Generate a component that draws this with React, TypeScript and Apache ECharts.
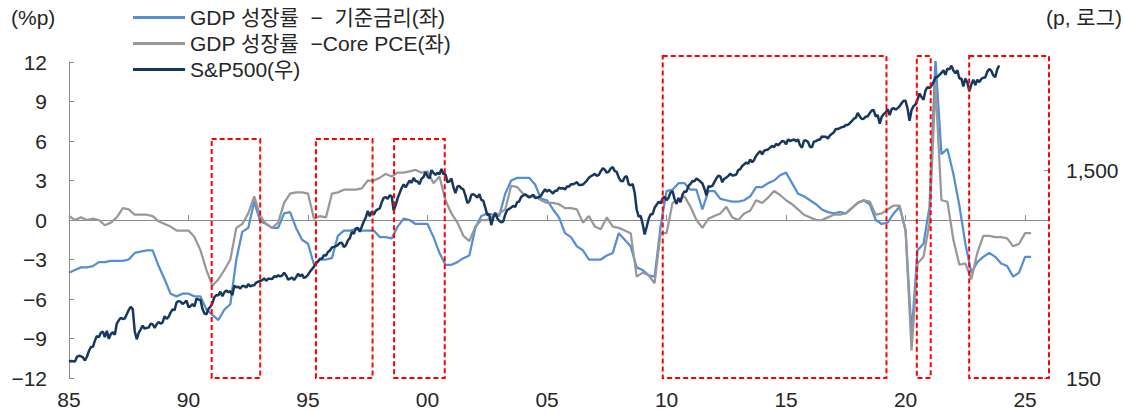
import React, { useEffect, useRef } from "react";
import * as echarts from "echarts";

// ---------- data ----------
const START_YEAR = 1985;

// GDP growth - policy rate (%p), quarterly from 1985Q1
const gdpMinusRate = [
  -4.0, -3.8, -3.6, -3.6, // 1985
  -3.5, -3.2, -3.2, -3.1, // 1986
  -3.1, -3.1, -3.0, -2.5, // 1987
  -2.4, -2.3, -2.3, -3.5, // 1988
  -4.5, -5.6, -5.8, -5.6, // 1989
  -5.6, -5.8, -5.8, -6.8, // 1990
  -7.2, -7.6, -6.8, -6.4, // 1991
  -3.0, -0.9, -0.6, 1.4, // 1992
  -0.1, -0.3, -0.6, -0.6, // 1993
  0.5, 0.6, -0.6, -1.5, // 1994
  -1.8, -3.4, -3.0, -3.0, // 1995
  -2.9, -1.2, -0.8, -0.8, // 1996
  -0.7, -0.8, -0.8, -0.8, // 1997
  -1.3, -1.3, -1.4, -0.5, // 1998
  0.1, 0.0, -0.3, -0.3, // 1999
  -0.3, -1.3, -2.5, -3.4, // 2000
  -3.4, -3.2, -2.9, -2.7, // 2001
  -0.6, 0.3, 0.5, 0.4, // 2002
  0.3, 2.0, 3.0, 3.2, // 2003
  3.2, 3.2, 2.7, 1.6, // 2004
  1.5, 0.8, 0.2, -1.0, // 2005
  -1.3, -2.0, -2.3, -3.0, // 2006
  -3.0, -3.0, -2.7, -2.5, // 2007
  -1.0, -1.5, -2.0, -3.6, // 2008
  -3.8, -4.2, -4.3, -0.5, // 2009
  2.2, 2.3, 2.8, 2.8, // 2010
  2.3, 2.3, 0.8, 2.2, // 2011
  2.2, 1.6, 1.5, 1.4, // 2012
  1.4, 1.5, 1.8, 2.5, // 2013
  2.5, 2.8, 3.0, 3.4, // 2014
  3.6, 2.8, 2.0, 1.8, // 2015
  1.5, 1.2, 0.8, 0.6, // 2016
  0.5, 0.6, 0.5, 0.9, // 2017
  1.3, 1.5, 1.2, 0.0, // 2018
  -0.3, -0.2, 0.5, 1.0, // 2019
  -0.8, -8.7, -2.3, -1.8, // 2020
  1.0, 12.2, 5.0, 5.4, // 2021
  3.5, 1.1, -1.8, -4.0, // 2022
  -3.2, -2.8, -2.5, -2.8, // 2023
  -3.3, -3.5, -4.3, -4.0, // 2024
  -2.8, -2.8, // 2025
];

// GDP growth - Core PCE (%p), quarterly from 1985Q1
const gdpMinusPce = [
  0.3, 0.0, 0.2, 0.0, // 1985
  0.1, 0.0, -0.4, -0.2, // 1986
  0.2, 0.9, 0.8, 0.4, // 1987
  0.4, 0.4, 0.3, -0.1, // 1988
  -0.3, -0.5, -0.8, -0.8, // 1989
  -0.8, -1.3, -2.3, -3.8, // 1990
  -5.0, -4.5, -3.8, -3.0, // 1991
  -0.6, -0.3, 0.5, 1.8, // 1992
  0.3, -0.3, -0.6, -0.2, // 1993
  1.3, 2.0, 2.1, 2.1, // 1994
  2.0, 0.1, 0.3, 0.2, // 1995
  2.0, 2.1, 2.3, 2.3, // 1996
  2.3, 2.4, 3.0, 3.0, // 1997
  3.2, 3.5, 3.3, 3.6, // 1998
  3.6, 3.7, 3.8, 3.6, // 1999
  3.7, 2.8, 3.3, 1.5, // 2000
  0.5, -0.2, -1.2, -1.6, // 2001
  -0.5, 0.0, 0.0, 0.3, // 2002
  0.5, 0.8, 2.6, 2.5, // 2003
  2.0, 1.8, 1.8, 1.5, // 2004
  1.3, 1.3, 1.2, 0.9, // 2005
  0.9, 0.8, -0.2, 0.3, // 2006
  -0.5, -0.7, 0.2, -0.5, // 2007
  -0.6, -0.8, -1.0, -4.3, // 2008
  -4.0, -4.2, -4.8, -1.0, // 2009
  -1.0, 1.3, 1.5, 1.8, // 2010
  1.0, 0.0, -0.6, 0.1, // 2011
  0.3, 0.5, 1.0, 0.2, // 2012
  0.0, 0.5, 0.7, 1.5, // 2013
  1.3, 1.7, 2.2, 1.9, // 2014
  1.5, 1.2, 0.8, 0.4, // 2015
  0.2, 0.0, 0.0, 0.2, // 2016
  0.4, 0.4, 0.5, 0.9, // 2017
  1.3, 1.5, 1.4, 0.4, // 2018
  0.5, 0.8, 1.1, 1.1, // 2019
  -0.8, -9.9, -3.3, -2.8, // 2020
  -0.25, 10.3, 1.5, 1.4, // 2021
  -1.5, -3.4, -3.3, -4.5, // 2022
  -2.5, -1.2, -1.2, -1.3, // 2023
  -1.3, -1.4, -2.0, -1.8, // 2024
  -1.0, -1.0, // 2025
];

// S&P500 monthly close (p), Jan 1985 - Dec 2023
const sp500 = [
  179.6, 181.2, 180.7, 179.8, 189.6, 191.9, 190.9, 188.6, 182.1, 189.8, 202.2, 211.3,
  211.8, 226.9, 238.9, 235.5, 247.4, 250.8, 236.1, 252.9, 231.3, 244.0, 249.2, 242.2,
  274.1, 284.2, 291.7, 288.4, 290.1, 304.0, 318.7, 329.8, 321.8, 251.8, 230.3, 247.1,
  257.1, 267.8, 258.9, 261.3, 262.2, 273.5, 272.0, 261.5, 271.9, 279.0, 273.7, 277.7,
  297.5, 288.9, 294.9, 309.6, 320.5, 318.0, 346.1, 351.5, 349.2, 340.4, 346.0, 353.4,
  329.1, 331.9, 339.9, 330.8, 361.2, 358.0, 356.2, 322.6, 306.1, 304.0, 322.2, 330.2,
  343.9, 367.1, 375.2, 375.3, 389.8, 371.2, 387.8, 395.4, 387.9, 392.5, 375.2, 417.1,
  408.8, 412.7, 403.7, 415.0, 415.4, 408.1, 424.2, 414.0, 417.8, 418.7, 431.4, 435.7,
  438.8, 443.4, 451.7, 440.2, 450.2, 450.5, 448.1, 463.6, 458.9, 467.8, 461.8, 466.5,
  481.6, 467.1, 445.8, 450.9, 456.5, 444.3, 458.3, 475.5, 462.7, 472.4, 453.7, 459.3,
  470.4, 487.4, 500.7, 514.7, 533.4, 544.8, 562.1, 561.9, 584.4, 581.5, 605.4, 615.9,
  636.0, 640.4, 645.5, 654.2, 669.1, 670.6, 639.9, 652.0, 687.3, 705.3, 757.0, 740.7,
  786.2, 790.8, 757.1, 801.3, 848.3, 885.1, 954.3, 899.5, 947.3, 914.6, 955.4, 970.4,
  980.3, 1049.3, 1101.8, 1111.8, 1090.8, 1133.8, 1120.7, 957.3, 1017.0, 1098.7, 1163.6, 1229.2,
  1279.6, 1238.3, 1286.4, 1335.2, 1301.8, 1372.7, 1328.7, 1320.4, 1282.7, 1362.9, 1388.9, 1469.3,
  1394.5, 1366.4, 1498.6, 1452.4, 1420.6, 1454.6, 1430.8, 1517.7, 1436.5, 1429.4, 1315.0, 1320.3,
  1366.0, 1239.9, 1160.3, 1249.5, 1255.8, 1224.4, 1211.2, 1133.6, 1040.9, 1059.8, 1139.5, 1148.1,
  1130.2, 1106.7, 1147.4, 1076.9, 1067.1, 989.8, 911.6, 916.1, 815.3, 885.8, 936.3, 879.8,
  855.7, 841.2, 848.2, 916.9, 963.6, 974.5, 990.3, 1008.0, 996.0, 1050.7, 1058.2, 1111.9,
  1131.1, 1144.9, 1126.2, 1107.3, 1120.7, 1140.8, 1101.7, 1104.2, 1114.6, 1130.2, 1173.8, 1211.9,
  1181.3, 1203.6, 1180.6, 1156.9, 1191.5, 1191.3, 1234.2, 1220.3, 1228.8, 1207.0, 1249.5, 1248.3,
  1280.1, 1280.7, 1294.9, 1310.6, 1270.1, 1270.2, 1276.7, 1303.8, 1335.9, 1377.9, 1400.6, 1418.3,
  1438.2, 1406.8, 1420.9, 1482.4, 1530.6, 1503.4, 1455.3, 1474.0, 1526.8, 1549.4, 1481.1, 1468.4,
  1378.6, 1330.6, 1322.7, 1385.6, 1400.4, 1280.0, 1267.4, 1282.8, 1166.4, 968.8, 896.2, 903.3,
  825.9, 735.1, 797.9, 872.8, 919.1, 919.3, 987.5, 1020.6, 1057.1, 1036.2, 1095.6, 1115.1,
  1073.9, 1104.5, 1169.4, 1186.7, 1089.4, 1030.7, 1101.6, 1049.3, 1141.2, 1183.3, 1180.6, 1257.6,
  1286.1, 1327.2, 1325.8, 1363.6, 1345.2, 1320.6, 1292.3, 1218.9, 1131.4, 1253.3, 1247.0, 1257.6,
  1312.4, 1365.7, 1408.5, 1397.9, 1310.3, 1362.2, 1379.3, 1406.6, 1440.7, 1412.2, 1416.2, 1426.2,
  1498.1, 1514.7, 1569.2, 1597.6, 1630.7, 1606.3, 1685.7, 1633.0, 1681.6, 1756.5, 1805.8, 1848.4,
  1782.6, 1859.5, 1872.3, 1884.0, 1923.6, 1960.2, 1930.7, 2003.4, 1972.3, 2018.1, 2067.6, 2058.9,
  1995.0, 2104.5, 2067.9, 2085.5, 2107.4, 2063.1, 2103.8, 1972.2, 1920.0, 2079.4, 2080.4, 2043.9,
  1940.2, 1932.2, 2059.7, 2065.3, 2097.0, 2098.9, 2173.6, 2171.0, 2168.3, 2126.2, 2198.8, 2238.8,
  2278.9, 2363.6, 2362.7, 2384.2, 2411.8, 2423.4, 2470.3, 2471.7, 2519.4, 2575.3, 2647.6, 2673.6,
  2823.8, 2713.8, 2640.9, 2648.1, 2705.3, 2718.4, 2816.3, 2901.5, 2914.0, 2711.7, 2760.2, 2506.9,
  2704.1, 2784.5, 2834.4, 2945.8, 2752.1, 2941.8, 2980.4, 2926.5, 2976.7, 3037.6, 3141.0, 3230.8,
  3225.5, 2954.2, 2584.6, 2912.4, 3044.3, 3100.3, 3271.1, 3500.3, 3363.0, 3270.0, 3621.6, 3756.1,
  3714.2, 3811.2, 3972.9, 4181.2, 4204.1, 4297.5, 4395.3, 4522.7, 4307.5, 4605.4, 4567.0, 4766.2,
  4515.6, 4373.9, 4530.4, 4131.9, 4132.2, 3785.4, 4130.3, 3955.0, 3585.6, 3872.0, 4080.1, 3839.5,
  4076.6, 3970.2, 4109.3, 4169.5, 4179.8, 4450.4, 4589.0, 4507.7, 4288.1, 4193.8, 4567.8, 4769.8,
];

// highlighted periods: [from, to, top (%p), bottom (%p)]
const periods = [
  [1990.97, 1993.0, 6.15, -12],
  [1995.33, 1997.7, 6.15, -12],
  [1998.6, 2000.72, 6.15, -12],
  [2009.84, 2019.2, 12.45, -12],
  [2020.47, 2021.05, 12.45, -12],
  [2022.66, 2026.0, 12.45, -12],
];

const seriesNames = [
  "GDP 성장률  −  기준금리(좌)",
  "GDP 성장률  −Core PCE(좌)",
  "S&P500(우)",
];
const xTicks = [1985, 1990, 1995, 2000, 2005, 2010, 2015, 2020, 2025];
const leftTicks = [-12, -9, -6, -3, 0, 3, 6, 9, 12];
const rightBase = 150; // bottom of log axis
const rightTop = 4960; // top of log axis
const rightTicks = [150, 1500];

const FONT = "'Liberation Sans', Arial, 'Noto Sans CJK KR', sans-serif";
const TXT = "#262626";
const FS = 21;

export default function App() {
  const ref = useRef<HTMLDivElement>(null);
  useEffect(() => {
    if (!ref.current) return;
    const chart = echarts.init(ref.current, undefined, { renderer: "svg" });
    const q = (arr: number[]) => arr.map((v, i) => [START_YEAR + i / 4, v]);
    const lg = (v: number) => Math.log10(v / rightBase);
    const spData = sp500.map((v, i) => [START_YEAR + i / 12, lg(v)]);

    chart.setOption({
      animation: false,
      textStyle: { fontFamily: FONT },
      grid: { left: 69, right: 75, top: 62, bottom: 34, containLabel: false },
      legend: {
        orient: "vertical",
        left: 133,
        top: 7,
        padding: 0,
        itemWidth: 52,
        itemHeight: 3,
        itemGap: 5,
        icon: "rect",
        data: seriesNames,
        textStyle: { fontFamily: FONT, fontSize: FS, color: TXT },
      },
      graphic: [
        {
          type: "text",
          left: 11,
          top: 7,
          style: { text: "(%p)", font: `${FS}px ${FONT}`, fill: TXT },
        },
        {
          type: "text",
          right: 2,
          top: 7,
          style: { text: "(p, 로그)", font: `${FS}px ${FONT}`, fill: TXT },
        },
      ],
      xAxis: [
        {
          type: "value",
          min: 1985,
          max: 2026,
          interval: 5,
          axisLine: { onZero: true, onZeroAxisIndex: 0, lineStyle: { color: "#8c8c8c", width: 1 } },
          axisTick: {
            show: true,
            inside: true,
            length: 5,
            customValues: xTicks.slice(1),
            lineStyle: { color: "#8c8c8c" },
          },
          axisLabel: { show: false },
          splitLine: { show: false },
        },
        {
          type: "value",
          position: "bottom",
          min: 1985,
          max: 2026,
          interval: 5,
          axisLine: { show: false, onZero: false },
          axisTick: { show: false },
          axisLabel: {
            show: true,
            margin: 11,
            fontSize: FS,
            color: TXT,
            fontFamily: FONT,
            customValues: xTicks,
            formatter: (v: number) => String(v % 100).padStart(2, "0"),
          },
          splitLine: { show: false },
        },
      ],
      yAxis: [
        {
          type: "value",
          min: -12,
          max: 12,
          interval: 3,
          position: "left",
          axisLine: { show: true, lineStyle: { color: "#8c8c8c" } },
          axisTick: { show: true, inside: true, length: 5, lineStyle: { color: "#8c8c8c" } },
          axisLabel: {
            margin: 22,
            fontSize: FS,
            color: TXT,
            fontFamily: FONT,
            customValues: leftTicks,
            formatter: (v: number) => (v < 0 ? "\u2212" + Math.abs(v) : String(v)),
          },
          splitLine: { show: false },
        },
        {
          type: "value",
          min: 0,
          max: lg(rightTop),
          interval: 1,
          position: "right",
          axisLine: { show: false, onZero: false },
          axisTick: {
            show: true,
            inside: true,
            length: 5,
            customValues: rightTicks.map(lg),
            lineStyle: { color: "#8c8c8c" },
          },
          axisLabel: {
            margin: 17,
            fontSize: FS,
            color: TXT,
            fontFamily: FONT,
            customValues: rightTicks.map(lg),
            formatter: (v: number) =>
              Math.round(rightBase * Math.pow(10, v)).toLocaleString("en-US"),
          },
          splitLine: { show: false },
        },
      ],
      series: [
        {
          name: seriesNames[0],
          type: "line",
          xAxisIndex: 0,
          yAxisIndex: 0,
          data: q(gdpMinusRate),
          showSymbol: false,
          symbol: "none",
          color: "#558ED5",
          lineStyle: { color: "#558ED5", width: 2.25 },
          z: 2,
        },
        {
          name: seriesNames[1],
          type: "line",
          xAxisIndex: 0,
          yAxisIndex: 0,
          data: q(gdpMinusPce),
          showSymbol: false,
          symbol: "none",
          color: "#989898",
          lineStyle: { color: "#989898", width: 2.25 },
          z: 3,
        },
        {
          name: seriesNames[2],
          type: "line",
          xAxisIndex: 0,
          yAxisIndex: 1,
          data: spData,
          showSymbol: false,
          symbol: "none",
          color: "#17375E",
          lineStyle: { color: "#17375E", width: 2.5 },
          z: 4,
        },
        {
          name: "periods",
          type: "custom",
          xAxisIndex: 0,
          yAxisIndex: 0,
          data: periods,
          encode: { x: [0, 1], y: [2, 3] },
          silent: true,
          z: 10,
          clip: false,
          renderItem: (_p: any, api: any) => {
            const a = api.coord([api.value(0), api.value(2)]);
            const b = api.coord([api.value(1), api.value(3)]);
            return {
              type: "rect",
              shape: { x: a[0], y: a[1], width: b[0] - a[0], height: b[1] - a[1] },
              style: { fill: "none", stroke: "#FF0000", lineWidth: 2, lineDash: [5, 3] },
            };
          },
        },
      ],
    });
    return () => chart.dispose();
  }, []);
  return <div ref={ref} style={{ width: 1124, height: 412, position: "absolute", left: 0, top: 0 }} />;
}
